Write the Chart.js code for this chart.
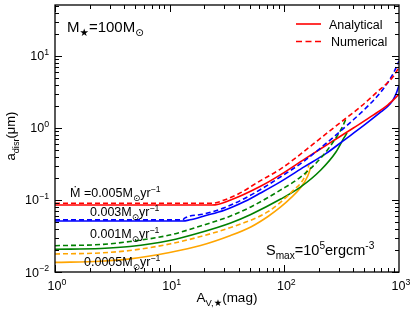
<!DOCTYPE html>
<html>
<head>
<meta charset="utf-8">
<script src="https://cdn.jsdelivr.net/npm/chart.js@4"></script>
<style>
html, body { margin: 0; padding: 0; background: #fff; }
canvas { display: block; }
</style>
</head>
<body>
<canvas id="myChart" width="415" height="313"></canvas>
<script>
// A_V,* (mag) and a_disr (um); A = analytical, N = numerical
const avRedA = [1, 23.5, 34, 62, 93, 150, 250, 400, 600, 800, 880, 940, 1000];
const aRedA = [0.085, 0.085, 0.1, 0.155, 0.225, 0.37, 0.62, 1.0, 1.52, 2.1, 2.4, 2.65, 2.95];
const avRedN = [1, 23.5, 30, 40, 60, 93, 130, 200, 300, 450, 650, 800, 900, 1000];
const aRedN = [0.09, 0.09, 0.1, 0.122, 0.18, 0.27, 0.4, 0.69, 1.15, 1.9, 3.2, 4.3, 5.3, 7.0];

const avBlueA = [1, 13, 15, 20, 30, 45, 62, 93, 150, 230, 333, 500, 700, 800, 880, 940, 1000];
const aBlueA = [0.051, 0.051, 0.053, 0.06, 0.072, 0.095, 0.125, 0.18, 0.29, 0.44, 0.68, 1.1, 1.68, 2.0, 2.4, 2.95, 3.9];
const avBlueN = [1, 13, 13.5, 20, 30, 45, 62, 93, 150, 272, 400, 550, 700, 800, 900, 1000];
const aBlueN = [0.053, 0.053, 0.056, 0.064, 0.078, 0.105, 0.14, 0.21, 0.35, 0.76, 1.3, 2.1, 3.2, 4.3, 5.9, 8.5];

const avGreenA = [1, 2.5, 4.5, 10, 18.6, 34, 51, 93, 139, 208, 282, 331, 352];
const aGreenA = [0.0207, 0.0212, 0.0226, 0.0274, 0.0354, 0.048, 0.063, 0.103, 0.152, 0.261, 0.464, 0.727, 0.853];
const avGreenN = [1, 2.5, 4.5, 10, 18.6, 34, 51, 93, 139, 208, 282, 324, 344];
const aGreenN = [0.0232, 0.0241, 0.0265, 0.0326, 0.0435, 0.06, 0.08, 0.138, 0.209, 0.383, 0.727, 1.066, 1.334];

const avOrangeA = [1, 2.5, 4.5, 10, 18.6, 34, 51, 72, 93, 114, 139, 160, 170];
const aOrangeA = [0.0136, 0.0141, 0.0152, 0.0187, 0.0233, 0.0321, 0.0422, 0.059, 0.08, 0.107, 0.149, 0.215, 0.287];
const avOrangeN = [1, 2.5, 4.5, 10, 18.6, 36, 72, 121, 148, 164];
const aOrangeN = [0.0178, 0.0184, 0.0199, 0.0245, 0.0311, 0.0428, 0.0688, 0.138, 0.2, 0.306];

// tick labels (10^n)
const xTickVals = [1, 10, 100, 1000];
const xTickExp = ['0', '1', '2', '3'];
const yTickVals = [0.01, 0.1, 1, 10];
const yTickExp = ['\u22122', '\u22121', '0', '1'];

const fontFam = '"Liberation Sans", Arial, "DejaVu Sans", sans-serif';

function pts(xs, ys) {
    return xs.map((x, i) => ({ x: x, y: ys[i] }));
}

function series(label, xs, ys, color, dashed) {
    return {
        label: label,
        data: pts(xs, ys),
        borderColor: color,
        backgroundColor: color,
        borderWidth: 1.6,
        borderDash: dashed ? [5, 3] : [],
        pointRadius: 0,
        fill: false,
        cubicInterpolationMode: 'monotone',
        order: dashed ? 0 : 1
    };
}

// draws text made of [string, 'sub'|'sup'|''] pieces
function drawRich(ctx, parts, x, y, size, align) {
    let w = 0;
    for (const [t, k] of parts) {
        ctx.font = (k ? size * 0.7 : size) + 'px ' + fontFam;
        w += ctx.measureText(t).width;
    }
    let cx = align === 'center' ? x - w / 2 : align === 'right' ? x - w : x;
    ctx.textAlign = 'left';
    ctx.textBaseline = 'alphabetic';
    for (const [t, k] of parts) {
        ctx.font = (k ? size * 0.7 : size) + 'px ' + fontFam;
        const dy = k === 'sub' ? size * 0.28 : k === 'sup' ? -size * 0.42 : 0;
        ctx.fillText(t, cx, y + dy);
        cx += ctx.measureText(t).width;
    }
}

const frame = {
    id: 'frame',
    afterDraw(chart) {
        const ctx = chart.ctx;
        const a = chart.chartArea;
        const xs = chart.scales.x;
        const ys = chart.scales.y;
        ctx.save();
        ctx.strokeStyle = '#000';
        ctx.fillStyle = '#000';
        ctx.lineWidth = 1;
        // inward ticks on all four sides
        ctx.beginPath();
        for (let d = 1; d < 1000; d *= 10) {
            for (let k = 1; k <= 9; k++) {
                const px = Math.round(xs.getPixelForValue(d * k)) + 0.5;
                const len = k === 1 ? 7 : 4;
                ctx.moveTo(px, a.bottom); ctx.lineTo(px, a.bottom - len);
                ctx.moveTo(px, a.top); ctx.lineTo(px, a.top + len);
            }
        }
        for (let d = 0.01; d < 60; d *= 10) {
            for (let k = 1; k <= 9; k++) {
                const v = d * k;
                if (v > ys.max) break;
                const py = Math.round(ys.getPixelForValue(v)) + 0.5;
                const len = k === 1 ? 7 : 4;
                ctx.moveTo(a.left, py); ctx.lineTo(a.left + len, py);
                ctx.moveTo(a.right, py); ctx.lineTo(a.right - len, py);
            }
        }
        ctx.stroke();
        ctx.lineWidth = 1.3;
        ctx.strokeRect(a.left, a.top, a.right - a.left, a.bottom - a.top);

        // tick labels
        xTickVals.forEach((v, i) => {
            drawRich(ctx, [['10', ''], [xTickExp[i], 'sup']], xs.getPixelForValue(v) + 2, 290, 12.5, 'center');
        });
        yTickVals.forEach((v, i) => {
            drawRich(ctx, [['10', ''], [yTickExp[i], 'sup']], 49, ys.getPixelForValue(v) + 4.5, 12.5, 'right');
        });

        // axis titles
        drawRich(ctx, [['A', ''], ['V,\u2605', 'sub'], ['(mag)', '']], 227, 302, 13.5, 'center');
        ctx.save();
        ctx.translate(15, 136);
        ctx.rotate(-Math.PI / 2);
        drawRich(ctx, [['a', ''], ['disr', 'sub'], ['(\u03bcm)', '']], 0, 0, 13, 'center');
        ctx.restore();

        // annotations
        drawRich(ctx, [['M', ''], ['\u2605', 'sub'], ['=100M', ''], ['\u2299', 'sub']], 67, 32, 15, 'left');
        drawRich(ctx, [['S', ''], ['max', 'sub'], ['=10', ''], ['5', 'sup'], ['ergcm', ''], ['-3', 'sup']], 266, 255, 14.5, 'left');
        drawRich(ctx, [['\u1e40 =0.005M', ''], ['\u2299', 'sub'], ['yr', ''], ['\u22121', 'sup']], 70, 197, 12.5, 'left');
        drawRich(ctx, [['0.003M', ''], ['\u2299', 'sub'], ['yr', ''], ['\u22121', 'sup']], 90, 216, 12.5, 'left');
        drawRich(ctx, [['0.001M', ''], ['\u2299', 'sub'], ['yr', ''], ['\u22121', 'sup']], 90, 238, 12.5, 'left');
        drawRich(ctx, [['0.0005M', ''], ['\u2299', 'sub'], ['yr', ''], ['\u22121', 'sup']], 84, 266, 12.5, 'left');

        // legend
        ctx.strokeStyle = '#ff0000';
        ctx.lineWidth = 1.6;
        ctx.beginPath();
        ctx.moveTo(296, 24); ctx.lineTo(321, 24);
        ctx.stroke();
        ctx.setLineDash([6, 3.5]);
        ctx.beginPath();
        ctx.moveTo(296, 41.5); ctx.lineTo(321, 41.5);
        ctx.stroke();
        ctx.setLineDash([]);
        ctx.fillStyle = '#000';
        drawRich(ctx, [['Analytical', '']], 329, 28.5, 12.5, 'left');
        drawRich(ctx, [['Numerical', '']], 331, 46, 12.5, 'left');
        ctx.restore();
    }
};

const ctx = document.getElementById('myChart').getContext('2d');
const chart = new Chart(ctx, {
    type: 'line',
    data: {
        datasets: [
            series('0.005 analytical', avRedA, aRedA, '#ff0000', false),
            series('0.005 numerical', avRedN, aRedN, '#ff0000', true),
            series('0.003 analytical', avBlueA, aBlueA, '#0000ff', false),
            series('0.003 numerical', avBlueN, aBlueN, '#0000ff', true),
            series('0.001 analytical', avGreenA, aGreenA, '#008000', false),
            series('0.001 numerical', avGreenN, aGreenN, '#008000', true),
            series('0.0005 analytical', avOrangeA, aOrangeA, '#ffa500', false),
            series('0.0005 numerical', avOrangeN, aOrangeN, '#ffa500', true)
        ]
    },
    options: {
        responsive: false,
        animation: false,
        devicePixelRatio: 1,
        layout: { padding: { left: 0, right: 16, top: 5, bottom: 0 } },
        plugins: { legend: { display: false }, tooltip: { enabled: false } },
        scales: {
            x: {
                type: 'logarithmic',
                min: 1,
                max: 1000,
                grid: { display: false, drawTicks: false },
                border: { display: false },
                ticks: { display: false },
                afterFit: s => { s.height = 41; }
            },
            y: {
                type: 'logarithmic',
                min: 0.01,
                max: 51,
                grid: { display: false, drawTicks: false },
                border: { display: false },
                ticks: { display: false },
                afterFit: s => { s.width = 55; }
            }
        }
    },
    plugins: [frame]
});
</script>
</body>
</html>
